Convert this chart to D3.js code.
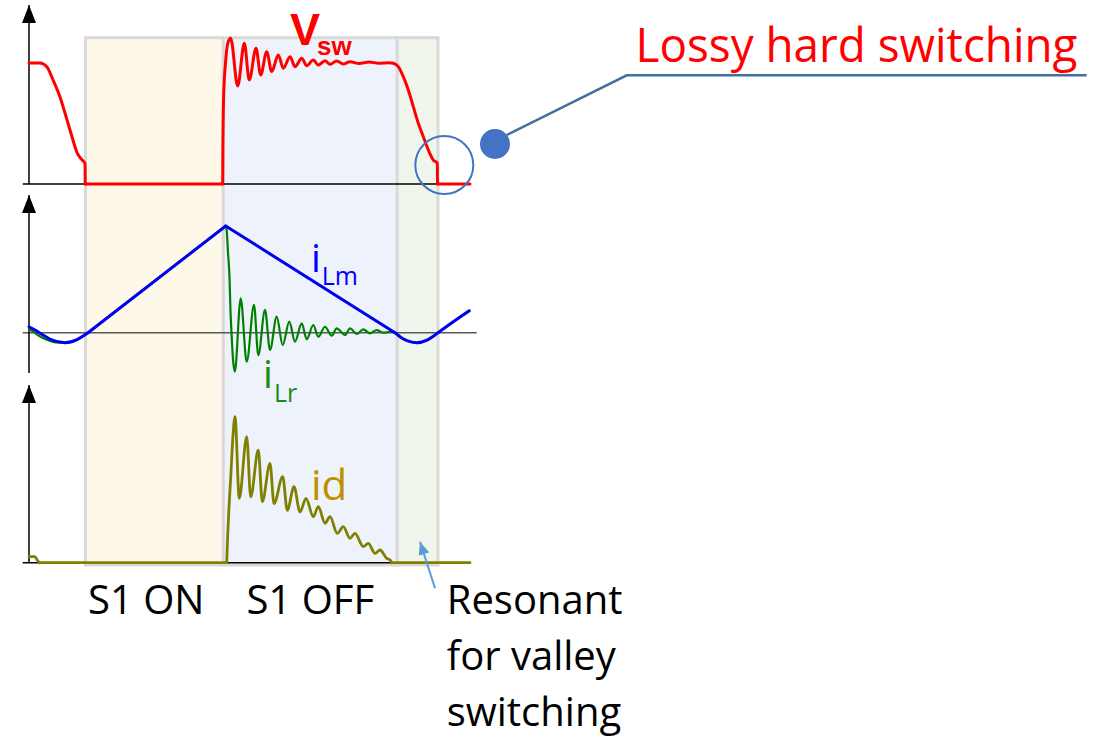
<!DOCTYPE html>
<html>
<head>
<meta charset="utf-8">
<script src="https://cdn.jsdelivr.net/npm/d3@7"></script>
<style>
  html, body { margin: 0; padding: 0; background: #fff; }
  svg { display: block; }
  text { font-family: "Open Sans", sans-serif; }
</style>
</head>
<body>
<script>
/***** Data (time in ns, signals normalised) *****/

// switching phases and their time boundaries
var phaseNames = ["S1 ON", "S1 OFF", "Resonant"];
var phaseEdges = [56.5, 194.3, 368.3, 409];

// switch node voltage, 1 = plateau
var vsw = [
  [0, 1.0], [11, 1.0], [18, 0.967], [24, 0.86], [31, 0.72], [38, 0.53], [43, 0.39],
  [48, 0.26], [53, 0.20], [56, 0.17], [56.2, 0], [193.7, 0], [193.9, 0.30],
  [194.6, 0.71], [196.5, 1.0], [199, 1.17], [201.7, 1.204], [208.7, 0.81],
  [215.3, 1.163], [220.3, 0.86], [227, 1.121], [231.7, 0.901], [237.7, 1.094],
  [242.7, 0.929], [249.3, 1.066], [254.3, 0.957], [261, 1.052], [266, 0.970],
  [272.7, 1.039], [277.7, 0.978], [284.3, 1.025], [289.3, 0.983], [296, 1.019],
  [301, 0.989], [307.7, 1.017], [314.3, 0.992], [321, 1.011], [330, 0.995],
  [340, 1.008], [350, 0.998], [360, 1.002], [364.3, 0.998], [369.3, 0.970],
  [374.3, 0.887], [379.3, 0.777], [384.3, 0.639], [389.3, 0.502], [394.3, 0.391],
  [399.3, 0.281], [404.3, 0.198], [408.3, 0.171], [408.5, 0], [441, 0]
];

// magnetising current, 1 = peak
var iLm = [
  [0, 0.056], [7, 0.02], [14, -0.022], [22, -0.065], [36, -0.094], [48, -0.065],
  [56, -0.02], [59, 0.0], [196.7, 1.0], [366, 0.0], [372, -0.045], [378, -0.075],
  [387.7, -0.094], [398, -0.07], [404, -0.035], [409, 0.0], [424.3, 0.103], [440.3, 0.206]
];

// resonant current
var iLr = [
  [0, 0.035], [5, 0.005], [10, -0.03], [16, -0.06], [25, -0.088], [36, -0.094],
  [48, -0.065], [56, -0.02], [59, 0.0], [196.7, 1.0], [197.7, 0.96], [199, 0.75],
  [200.5, 0.52], [201.5, 0.2], [202.5, 0.0], [204, -0.25], [205.8, -0.365],
  [211.7, 0.322], [217.7, -0.272], [225, 0.260], [229.3, -0.210], [236, 0.213],
  [241, -0.162], [247.7, 0.150], [253.7, -0.116], [260.3, 0.103], [266, -0.084],
  [272.7, 0.088], [277.7, -0.062], [284.3, 0.072], [289.3, -0.037], [296, 0.056],
  [302.7, -0.028], [307.7, 0.041], [316, -0.021], [321, 0.041], [327.7, -0.012],
  [334.3, 0.031], [341, -0.006], [347.7, 0.025], [354.3, 0.0], [361, 0.009],
  [366, 0.0], [372, -0.045], [378, -0.075], [387.7, -0.094], [398, -0.07],
  [404, -0.035], [409, 0.0], [424.3, 0.103], [440.3, 0.206]
];

// diode current, 1 = first peak
var id = [
  [0, 0.041], [6, 0.041], [8, 0.02], [10.3, 0], [197.7, 0], [198.7, 0.19],
  [200, 0.38], [202, 0.62], [203.7, 0.84], [206, 1.0], [210.3, 0.441],
  [217.7, 0.863], [221.7, 0.452], [229.3, 0.771], [233.3, 0.418], [241, 0.680],
  [245, 0.405], [253.7, 0.589], [258.3, 0.359], [265, 0.521], [271, 0.347],
  [277, 0.441], [284.3, 0.315], [289.3, 0.384], [296, 0.270], [301, 0.315],
  [308.3, 0.201], [314.3, 0.247], [321, 0.167], [326, 0.201], [334.3, 0.110],
  [339.3, 0.132], [346, 0.064], [351, 0.087], [357.7, 0.030], [361, 0.018],
  [362.7, 0], [441, 0]
];

(function(d3) {
  "use strict";

  /***** Scales *****/
  var x = d3.scaleLinear().domain([0, 441]).range([29, 470]);
  var yV = d3.scaleLinear().domain([0, 1]).range([184, 63]);
  var yI = d3.scaleLinear().domain([0, 1]).range([332.7, 226]);
  var yD = d3.scaleLinear().domain([0, 1]).range([562.7, 416.7]);

  var svg = d3.select("body").append("svg")
    .attr("width", 1093)
    .attr("height", 739);

  // arrow heads
  var defs = svg.append("defs");
  defs.append("marker")
    .attr("id", "axisArrow")
    .attr("viewBox", "0 0 18 14")
    .attr("markerUnits", "userSpaceOnUse")
    .attr("markerWidth", 18).attr("markerHeight", 14)
    .attr("refX", 18).attr("refY", 7)
    .attr("orient", "auto")
    .append("path").attr("d", "M0,0 L18,7 L0,14 Z").attr("fill", "#000");
  defs.append("marker")
    .attr("id", "noteArrow")
    .attr("viewBox", "0 0 13 11")
    .attr("markerUnits", "userSpaceOnUse")
    .attr("markerWidth", 13).attr("markerHeight", 11)
    .attr("refX", 13).attr("refY", 5.5)
    .attr("orient", "auto")
    .append("path").attr("d", "M0,0 L13,5.5 L0,11 Z").attr("fill", "#5b9bd5");

  /***** Phase backgrounds *****/
  var phaseFill = ["#fef8e8", "#eef2fa", "#f1f6ed"];
  svg.append("g").selectAll("rect")
    .data(phaseNames)
    .enter().append("rect")
    .attr("x", function(d, i) { return x(phaseEdges[i]); })
    .attr("width", function(d, i) { return x(phaseEdges[i + 1]) - x(phaseEdges[i]); })
    .attr("y", 37.7)
    .attr("height", 565 - 37.7)
    .attr("fill", function(d, i) { return phaseFill[i]; })
    .attr("stroke", "#d9d9d9")
    .attr("stroke-width", 3);

  /***** Axes *****/
  var panels = [
    { top: 5, bottom: 184, base: 184, right: 470, color: "#000" },
    { top: 195, bottom: 373, base: 332.7, right: 476.7, color: "#595959" },
    { top: 385, bottom: 563, base: 562.7, right: 470, color: "#000" }
  ];
  panels.forEach(function(p) {
    svg.append("line")
      .attr("x1", x(0) - 6.3).attr("x2", p.right)
      .attr("y1", p.base).attr("y2", p.base)
      .attr("stroke", p.color).attr("stroke-width", 1.5);
    svg.append("line")
      .attr("x1", x(0)).attr("x2", x(0))
      .attr("y1", p.bottom).attr("y2", p.top)
      .attr("stroke", "#000").attr("stroke-width", 1.5)
      .attr("marker-end", "url(#axisArrow)");
  });

  /***** Waveforms *****/
  // Dense parts are smoothed, long gaps (linear ramps, flat parts) stay straight.
  var smooth = function(y) {
    return d3.line()
      .x(function(d) { return x(d[0]); })
      .y(function(d) { return y(d[1]); })
      .curve(d3.curveMonotoneX);
  };
  var straight = function(y) {
    return d3.line()
      .x(function(d) { return x(d[0]); })
      .y(function(d) { return y(d[1]); });
  };

  function drawTrace(data, y, color, w) {
    var pieces = [];
    var run = [data[0]];
    for (var i = 1; i < data.length; i++) {
      if (data[i][0] - data[i - 1][0] > 30) {
        pieces.push({ pts: run, kind: "smooth" });
        pieces.push({ pts: [data[i - 1], data[i]], kind: "straight" });
        run = [data[i]];
      } else {
        run.push(data[i]);
      }
    }
    pieces.push({ pts: run, kind: "smooth" });

    var g = svg.append("g")
      .attr("fill", "none")
      .attr("stroke", color)
      .attr("stroke-width", w)
      .attr("stroke-linejoin", "round")
      .attr("stroke-linecap", "round");
    g.selectAll("path")
      .data(pieces.filter(function(p) { return p.pts.length > 1; }))
      .enter().append("path")
      .attr("d", function(p) { return (p.kind === "smooth" ? smooth(y) : straight(y))(p.pts); });
  }

  drawTrace(vsw, yV, "#ff0000", 3);
  drawTrace(iLr, yI, "#008000", 2.2);
  drawTrace(iLm, yI, "#0000f0", 3);
  drawTrace(id, yD, "#808000", 2.8);

  /***** Labels *****/
  var vLabel = svg.append("text")
    .attr("x", 290).attr("y", 45)
    .attr("fill", "#ff0000")
    .style("font-family", "'Liberation Sans', Arial, sans-serif")
    .style("font-weight", "bold")
    .style("font-size", "45px")
    .text("V");
  vLabel.append("tspan")
    .attr("x", 317).attr("y", 55)
    .style("font-size", "26px")
    .text("sw");

  var lm = svg.append("text")
    .attr("x", 311).attr("y", 271.7)
    .attr("fill", "#0000ff")
    .style("font-size", "39px")
    .text("i");
  lm.append("tspan").attr("x", 321.7).attr("y", 285).style("font-size", "25px").text("Lm");

  var lr = svg.append("text")
    .attr("x", 263).attr("y", 388)
    .attr("fill", "#1a8a1a")
    .style("font-size", "39px")
    .text("i");
  lr.append("tspan").attr("x", 274).attr("y", 401.7).style("font-size", "25px").text("Lr");

  svg.append("text")
    .attr("x", 311).attr("y", 500)
    .attr("fill", "#bf9000")
    .style("font-size", "42px")
    .text("id");

  // phase names under the plot
  svg.append("text").attr("x", 88).attr("y", 614).style("font-size", "40px").text(phaseNames[0]);
  svg.append("text").attr("x", 246.5).attr("y", 614).style("font-size", "40px").text(phaseNames[1]);

  var res = svg.append("text").attr("x", 446.7).style("font-size", "40px").attr("fill", "#000");
  ["Resonant", "for valley", "switching"].forEach(function(s, i) {
    res.append("tspan").attr("x", 446.7).attr("y", 614 + i * 56).text(s);
  });

  svg.append("line")
    .attr("x1", 435).attr("y1", 588.3)
    .attr("x2", 420).attr("y2", 541.7)
    .attr("stroke", "#5b9bd5").attr("stroke-width", 2)
    .attr("marker-end", "url(#noteArrow)");

  /***** Hard switching callout *****/
  svg.append("circle")
    .attr("cx", 444.3).attr("cy", 165).attr("r", 29)
    .attr("fill", "none").attr("stroke", "#4472c4").attr("stroke-width", 2);

  svg.append("polyline")
    .attr("points", "506.7,135 626.7,75.3 1086.7,75.3")
    .attr("fill", "none").attr("stroke", "#41719c").attr("stroke-width", 2.5);

  svg.append("circle")
    .attr("cx", 495).attr("cy", 144).attr("r", 15)
    .attr("fill", "#4472c4");

  svg.append("text")
    .attr("x", 635.5).attr("y", 61.7)
    .attr("fill", "#ff0000")
    .attr("textLength", 442)
    .attr("lengthAdjust", "spacingAndGlyphs")
    .style("font-size", "47px")
    .text("Lossy hard switching");
})(d3);
</script>
</body>
</html>
